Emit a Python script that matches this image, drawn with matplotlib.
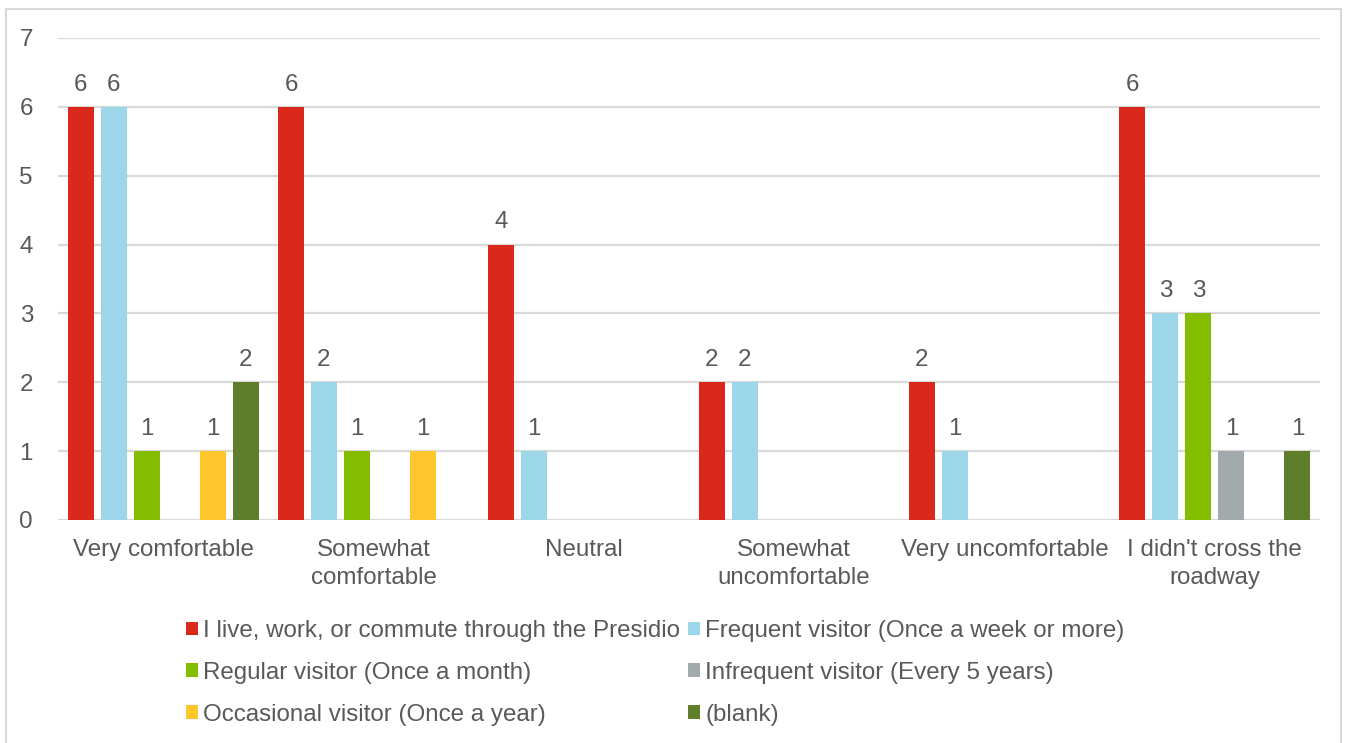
import numpy as np
import matplotlib.pyplot as plt
from matplotlib.patches import Rectangle, Patch

plt.rcParams['font.family'] = ['Liberation Sans', 'DejaVu Sans']

# categories and series
categories = ["Very comfortable", "Somewhat\ncomfortable", "Neutral",
              "Somewhat\nuncomfortable", "Very uncomfortable",
              "I didn't cross the\nroadway"]
series_names = ["I live, work, or commute through the Presidio",
                "Frequent visitor (Once a week or more)",
                "Regular visitor (Once a month)",
                "Infrequent visitor (Every 5 years)",
                "Occasional visitor (Once a year)",
                "(blank)"]
presidio = [6, 6, 4, 2, 2, 6]
frequent = [6, 2, 1, 2, 1, 3]
regular = [1, 1, 0, 0, 0, 3]
infrequent = [0, 0, 0, 0, 0, 1]
occasional = [1, 1, 0, 0, 0, 0]
blank = [2, 0, 0, 0, 0, 1]
colors = ["#DA291C", "#9CD6E9", "#84BD00", "#A2AAAD", "#FFC72C", "#5F7E2B"]

all_series = [presidio, frequent, regular, infrequent, occasional, blank]

fig = plt.figure(figsize=(13.52, 7.43), dpi=100)
ax = fig.add_axes([58 / 1352, 1 - 520 / 743, 1262 / 1352, 482 / 743])

text_color = "#595959"
grid_color = "#D9D9D9"
fs = 17.4
x = np.arange(len(categories))
step = 0.157
width = 0.124

for j, (vals, col) in enumerate(zip(all_series, colors)):
    vals = np.array(vals, dtype=float)
    xs = x + (j - 2.5) * step
    mask = vals > 0
    bars = ax.bar(xs[mask], vals[mask], width=width, color=col, zorder=3)
    ax.bar_label(bars, labels=[str(int(v)) for v in vals[mask]], padding=8,
                 fontsize=fs, color=text_color)

ax.set_xlim(-0.5, len(categories) - 0.5)
ax.set_ylim(0, 7)
ax.set_yticks(range(0, 8))
ax.yaxis.grid(True, color=grid_color, linewidth=1.6, zorder=0)
ax.set_axisbelow(True)
for s in ax.spines.values():
    s.set_visible(False)
ax.tick_params(axis='both', length=0, labelsize=fs, colors=text_color)
ax.tick_params(axis='y', pad=18)
ax.tick_params(axis='x', pad=14)
ax.set_xticks(x)
ax.set_xticklabels(categories, linespacing=1.3)

# legend reads row by row in the reference, matplotlib fills by column
order = [0, 2, 4, 1, 3, 5]
handles = [Patch(facecolor=colors[i], edgecolor='none') for i in order]
labels = [series_names[i] for i in order]
fig.legend(handles, labels, ncol=2, loc='upper left',
           bbox_to_anchor=(186 / 1352, 1 - 620 / 743), frameon=False,
           fontsize=fs, labelcolor=text_color, handlelength=0.5,
           handleheight=0.5, handletextpad=0.2, columnspacing=0.35,
           labelspacing=0.82, borderpad=0, borderaxespad=0)

fig.patches.append(Rectangle((6 / 1352, -0.01), 1335 / 1352, 1 - 9 / 743 + 0.01,
                             transform=fig.transFigure, fill=False,
                             edgecolor=grid_color, linewidth=1.5))

fig.savefig("out.png", dpi=100)
